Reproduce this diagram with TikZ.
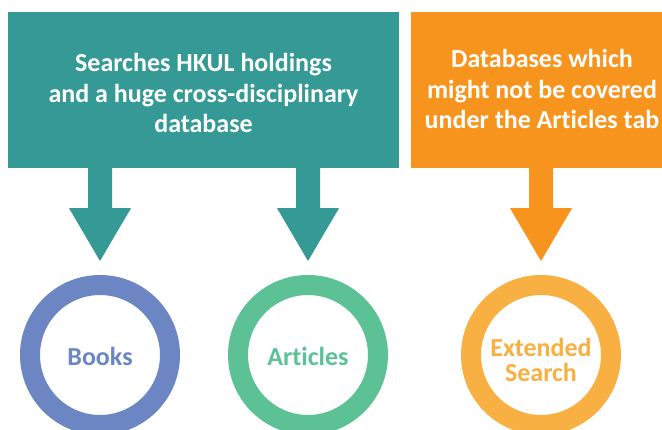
\documentclass[tikz,border=0pt]{standalone}
\usepackage{fontspec}
\setmainfont{Carlito}[Ligatures={NoCommon}]
\usetikzlibrary{calc}
\definecolor{tealc}{HTML}{359A95}
\definecolor{orangec}{HTML}{F7941E}
\definecolor{booksc}{HTML}{6C86C4}
\definecolor{articlesc}{HTML}{5CC195}
\definecolor{extc}{HTML}{F9B042}
\tikzset{
  boxnode/.style={inner sep=0pt, minimum height=156pt},
  boxtext/.style={inner sep=0pt, align=center, text=white,
    font=\fontsize{26}{30.5}\selectfont\bfseries},
  ring/.style={circle, line width=20pt, minimum size=140pt, inner sep=0pt, fill=white},
  ringtext/.style={inner sep=0pt, align=center, font=\fontsize{26}{25}\selectfont\bfseries},
}
\begin{document}
\begin{tikzpicture}[x=1pt,y=-1pt]
\useasboundingbox (0,0) rectangle (662,430);
\node[boxnode, fill=tealc, minimum width=391pt] (box1) at (203.5,90) {};
\node[boxnode, fill=orangec, minimum width=262pt] (box2) at (542,90) {};
\node[boxtext] (t1) at ($(box1.center)+(0,3)$) {Searches HKUL holdings\\and a huge cross-disciplinary\\database};
\node[boxtext] (t2) at ($(box2.center)+(0,-1)$) {Databases which\\might not be covered\\under the Articles tab};
\node[ring, draw=booksc] (b1) at (100,355) {};
\node[ring, draw=articlesc] (b2) at (308,355) {};
\node[ring, draw=extc] (b3) at (541,355) {};
\node[ringtext, text=booksc] (l1) at ($(b1.center)+(0,1)$) {Books};
\node[ringtext, text=articlesc] (l2) at ($(b2.center)+(0,1)$) {Articles};
\node[ringtext, text=extc] (l3) at ($(b3.center)+(0,5)$) {Extended\\Search};
\foreach \bx/\ci/\col in {box1/b1/tealc, box1/b2/tealc, box2/b3/orangec}{
  \path (\bx.south -| \ci.center) coordinate (s);
  \path (\ci.north) ++(0,-14) coordinate (t);
  \fill[\col] ($(s)+(-12,0)$) -- ++(0,40) -- ++(-19,0) -- (t) -- ($(s)+(31,40)$) -- ++(-19,0) -- ($(s)+(12,0)$) -- cycle;
}
\end{tikzpicture}
\end{document}
